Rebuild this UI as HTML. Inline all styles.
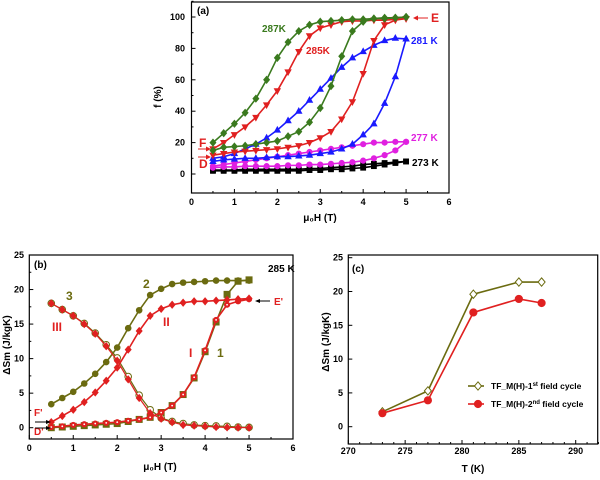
<!DOCTYPE html>
<html><head><meta charset="utf-8"><style>
body{margin:0;background:#fff}
svg{font-family:"Liberation Sans",Arial,sans-serif;font-weight:bold}
</style></head><body>
<svg id="s" width="600" height="475" viewBox="0 0 600 475">
</svg>
<script>
const xsA=[0.5,0.75,1,1.25,1.5,1.75,2,2.25,2.5,2.75,3,3.25,3.5,3.75,4,4.25,4.5,4.75,5];
const a287up=[15,17,17.5,18,19,20,21,24,27,33,42,56,75,91,97,99,99.5,99.5,100];
const a287dn=[20,26,32,39,48,60,74,84,91,95,97,97.5,98,98.5,98.5,99,99,99.5,100];
const a285up=[12,13,14,14.5,15,15.5,16,17,18,20,23,27,35,46,64,85,95,98,99];
const a285dn=[16,20,25,30,36,44,53,65,78,88,93,95,97,97.5,97.5,98,98,98.5,99];
const a281up=[8,9,9.5,10,10,10.5,11,11,11.5,12,13,14,16,19,25,32,45,62,86];
const a281dn=[10,11,13,16,19,23,28,34,40,47,54,61,68,74,78,82,85,86.5,86];
const a277up=[4,4.5,4.5,5,5,5,5,5.5,5.5,6,6,6.5,7,7.5,8.5,10,12,15,20.5];
const a277dn=[5,6,7,8,9,10,11,12,13,14,15,16,17,18,19,20,20,20.5,20.5];
const a273up=[2,2,2,2,2,2,2,2,2,2.5,2.5,3,3,3.5,4,5,6,7,8];
const a273dn=[2.5,2.5,2.5,3,3,3,3,3,3,3.5,3.5,4,4.5,5,6,6.5,7,7.5,8];
const b1=[0,0.1,0.2,0.3,0.4,0.5,0.6,0.9,1.2,1.5,2.2,3.2,4.8,7.2,11,15.3,19.3,21.2,21.4];
const b2=[3.4,4.3,5.2,6.4,7.8,9.5,11.6,14.4,17,19.2,20.1,20.8,21,21.1,21.2,21.3,21.3,21.3,21.3];
const b3=[18,17.1,16.2,15.1,13.7,12,10.1,7.4,4.7,2.6,1.4,0.9,0.6,0.4,0.3,0.25,0.2,0.1,0.05];
const bI=[0.1,0.2,0.4,0.5,0.6,0.7,0.8,1.0,1.2,1.5,2.2,3.2,4.8,7.3,11.2,15.6,17.8,18.3,18.6];
const bII=[0.8,1.7,2.6,3.7,5.1,6.8,8.7,11.3,14,16.2,17.2,17.8,18.1,18.3,18.3,18.4,18.5,18.6,18.7];
const bIII=[18,17.1,16.2,15,13.6,11.8,9.7,7,4.3,2.1,1.3,0.8,0.4,0.3,0.2,0.1,0.05,0.02,0];
const cT=[273,277,281,285,287];
const c1=[2.2,5.3,19.6,21.4,21.4];
const c2=[2.0,3.9,16.9,18.9,18.3];
const ticksA_x=[0,1,2,3,4,5,6], ticksA_y=[0,20,40,60,80,100];
const ticksB_y=[0,5,10,15,20,25], ticksC_x=[270,275,280,285,290];

const S=document.getElementById('s');const NS='http://www.w3.org/2000/svg';
function el(t,at,p){const e=document.createElementNS(NS,t);for(const k in at)e.setAttribute(k,at[k]);(p||S).appendChild(e);return e;}
function txt(x,y,s,at){const e=el('text',Object.assign({x:x,y:y,'font-size':10},at||{}));e.textContent=s;return e;}
function lin(d0,d1,r0,r1){return v=>r0+(v-d0)*(r1-r0)/(d1-d0);}
// panel frames
function frame(name,x0,y0,x1,y1){const r=el('rect',{x:x0,y:y0,width:x1-x0,height:y1-y0,fill:'none',stroke:'#000','stroke-width':1.2});
}
function marker(g,shape,x,y,col,fill,sz){
 let e;
 if(shape==='sq')e=el('rect',{x:x-sz,y:y-sz,width:2*sz,height:2*sz,fill:fill,stroke:col},g);
 else if(shape==='ci')e=el('circle',{cx:x,cy:y,r:sz,fill:fill,stroke:col},g);
 else if(shape==='di')e=el('polygon',{points:`${x},${y-sz*1.3} ${x+sz*1.1},${y} ${x},${y+sz*1.3} ${x-sz*1.1},${y}`,fill:fill,stroke:col},g);
 else if(shape==='tu')e=el('polygon',{points:`${x},${y-sz*1.2} ${x+sz*1.1},${y+sz*0.8} ${x-sz*1.1},${y+sz*0.8}`,fill:fill,stroke:col},g);
 else e=el('polygon',{points:`${x},${y+sz*1.2} ${x+sz*1.1},${y-sz*0.8} ${x-sz*1.1},${y-sz*0.8}`,fill:fill,stroke:col},g);
 
}
function series(name,xs,ys,X,Y,col,shape,fill,sz,lw){
 const g=el('g',{});
 el('polyline',{points:xs.map((v,i)=>X(v)+','+Y(ys[i])).join(' '),fill:'none',stroke:col,'stroke-width':lw||1.6},g);
 xs.forEach((v,i)=>marker(g,shape,X(v),Y(ys[i]),col,fill,sz));
}
// ---- Panel A
const AX=lin(0,6,191.5,449),AY=lin(0,100,174,17);
frame('panel-a-frame',191.5,2,449,193);
ticksA_x.forEach(v=>{el('line',{x1:AX(v),y1:193,x2:AX(v),y2:189,stroke:'#000'});if(v<6)el('line',{x1:AX(v+0.5),y1:193,x2:AX(v+0.5),y2:191,stroke:'#000'});
 const t=txt(AX(v),205,v,{'text-anchor':'middle','font-size':9});});
ticksA_y.forEach(v=>{el('line',{x1:191.5,y1:AY(v),x2:195.5,y2:AY(v),stroke:'#000'});el('line',{x1:191.5,y1:AY(v+10),x2:193.5,y2:AY(v+10),stroke:'#000'});
 const t=txt(185,AY(v)+3,v,{'text-anchor':'end','font-size':9});});
let t;
t=txt(320,221,'μ₀H (T)',{'text-anchor':'middle','font-size':10});
t=txt(0,0,'f (%)',{'text-anchor':'middle',transform:'translate(161,97) rotate(-90)'});
const xr=xsA.slice().reverse();
series('series-273k-up',xsA,a273up,AX,AY,'#000','sq','#000',2.4);
series('series-273k-down',xr,a273dn.slice().reverse(),AX,AY,'#000','sq','#000',2.4);
series('series-277k-up',xsA,a277up,AX,AY,'#e020e0','ci','#e020e0',2.6);
series('series-277k-down',xr,a277dn.slice().reverse(),AX,AY,'#e020e0','ci','#e020e0',2.6);
series('series-281k-up',xsA,a281up,AX,AY,'#1a1aff','tu','#1a1aff',2.6);
series('series-281k-down',xr,a281dn.slice().reverse(),AX,AY,'#1a1aff','tu','#1a1aff',2.6);
series('series-285k-up',xsA,a285up,AX,AY,'#e02020','td','#e02020',2.6);
series('series-285k-down',xr,a285dn.slice().reverse(),AX,AY,'#e02020','td','#e02020',2.6);
series('series-287k-up',xsA,a287up,AX,AY,'#3a7a1e','di','#3a7a1e',2.6);
series('series-287k-down',xr,a287dn.slice().reverse(),AX,AY,'#3a7a1e','di','#3a7a1e',2.6);
[['(a)',197,14,'#000'],['287K',262,32,'#3a7a1e'],['285K',306,54,'#e02020'],['281 K',411,44,'#1a1aff'],['277 K',411,141,'#e020e0'],['273 K',412,166,'#000'],['E',431,22,'#e02020'],['F',199,147,'#e02020'],['D',199,168,'#e02020']].forEach(a=>{
 t=txt(a[1],a[2],a[0],{fill:a[3],'font-size':a[0].length==1?12:10});});
el('line',{x1:428,y1:18,x2:415,y2:18,stroke:'#e02020'});el('polygon',{points:'413,18 418,15.5 418,20.5',fill:'#e02020'});
el('line',{x1:198,y1:149,x2:208,y2:149,stroke:'#e02020'});el('polygon',{points:'211,149 206,146.5 206,151.5',fill:'#e02020'});
el('line',{x1:198,y1:157,x2:208,y2:157,stroke:'#e02020'});el('polygon',{points:'211,157 206,154.5 206,159.5',fill:'#e02020'});
// ---- Panel B
const BX=lin(0,6,29.3,293),BY=lin(0,25,427.7,255);
frame('panel-b-frame',29.3,255,293,439);
ticksA_x.forEach(v=>{el('line',{x1:BX(v),y1:439,x2:BX(v),y2:435,stroke:'#000'});if(v<6)el('line',{x1:BX(v+0.5),y1:439,x2:BX(v+0.5),y2:437,stroke:'#000'});
 t=txt(BX(v),451,v,{'text-anchor':'middle','font-size':9});});
ticksB_y.forEach(v=>{el('line',{x1:29.3,y1:BY(v),x2:33.3,y2:BY(v),stroke:'#000'});if(v<25)el('line',{x1:29.3,y1:BY(v+2.5),x2:31.3,y2:BY(v+2.5),stroke:'#000'});
 t=txt(24,BY(v)+3,v,{'text-anchor':'end','font-size':9});});
t=txt(160,470,'μ₀H (T)',{'text-anchor':'middle','font-size':10});
t=txt(0,0,'ΔSm (J/kgK)',{'text-anchor':'middle','font-size':10,transform:'translate(10,345) rotate(-90)'});
const OL='#6b6b10',RD='#e02020';
series('series-1',xsA,b1,BX,BY,OL,'sq',OL,3);
series('series-2',xsA,b2,BX,BY,OL,'ci',OL,2.8);
series('series-3',xsA,b3,BX,BY,OL,'ci','#fff',3.3,1.2);
series('series-III',xsA,bIII,BX,BY,RD,'di',RD,2.6,1.2);
series('series-I',xsA,bI,BX,BY,RD,'ci',RD,2.6);
xsA.forEach((v,i)=>el('circle',{cx:BX(v),cy:BY(bI[i]),r:0.9,fill:'#fff'}));
series('series-II',xsA,bII,BX,BY,RD,'di',RD,2.6);
[['(b)',34,268,'#000',10],['285 K',268,272,'#000',10],['2',143,288,OL,12],['3',66,300,OL,12],['III',52,331,RD,12],['II',163,326,RD,12],['I',189,357,RD,12],['1',217,357,OL,12],["E'",274,305,RD,10],["F'",34,416,RD,10],["D'",34,435,RD,10]].forEach(a=>{
 t=txt(a[1],a[2],a[0],{fill:a[3],'font-size':a[4]});});
el('line',{x1:270,y1:301,x2:258,y2:301,stroke:'#000'});el('polygon',{points:'255,301 260,299 260,303',fill:'#000'});
el('line',{x1:35,y1:422,x2:48,y2:422,stroke:'#000'});el('polygon',{points:'51,422 46,420 46,424',fill:'#000'});
el('line',{x1:35,y1:428,x2:48,y2:428,stroke:'#000'});el('polygon',{points:'51,428 46,426 46,430',fill:'#000'});
// ---- Panel C
const CX=lin(270,290,348.3,575.7),CY=lin(0,25,426.7,257.7);
frame('panel-c-frame',348.3,255,597.7,444);
ticksC_x.forEach(v=>{el('line',{x1:CX(v),y1:444,x2:CX(v),y2:440,stroke:'#000'});el('line',{x1:CX(v+1),y1:444,x2:CX(v+1),y2:442,stroke:'#000'});el('line',{x1:CX(v+2),y1:444,x2:CX(v+2),y2:442,stroke:'#000'});el('line',{x1:CX(v+3),y1:444,x2:CX(v+3),y2:442,stroke:'#000'});el('line',{x1:CX(v+4),y1:444,x2:CX(v+4),y2:442,stroke:'#000'});
 t=txt(CX(v),454,v,{'text-anchor':'middle','font-size':9});});
ticksB_y.forEach(v=>{el('line',{x1:348.3,y1:CY(v),x2:352.3,y2:CY(v),stroke:'#000'});
 t=txt(343,CY(v)+3,v,{'text-anchor':'end','font-size':9});});
t=txt(473,472,'T (K)',{'text-anchor':'middle','font-size':10});
t=txt(0,0,'ΔSm (J/kgK)',{'text-anchor':'middle','font-size':10,transform:'translate(329,342) rotate(-90)'});
series('series-1st-cycle',cT,c1,CX,CY,OL,'di','#fff',3.2,1.6);
series('series-2nd-cycle',cT,c2,CX,CY,RD,'ci',RD,3.6,1.6);
t=txt(352,272,'(c)',{});
const lg=el('g',{});
el('line',{x1:468,y1:386,x2:484,y2:386,stroke:OL,'stroke-width':1.6},lg);marker(lg,'di',478,386,OL,'#fff',3.2);
el('line',{x1:468,y1:404,x2:484,y2:404,stroke:RD,'stroke-width':1.6},lg);marker(lg,'ci',478,404,RD,RD,3.6);
t=txt(491,389,'',{'font-size':8.5},);t.innerHTML='TF_M(H)-1<tspan font-size="6" dy="-3">st</tspan><tspan dy="3"> field cycle</tspan>';lg.appendChild(t);
t=txt(491,407,'',{'font-size':8.5});t.innerHTML='TF_M(H)-2<tspan font-size="6" dy="-3">nd</tspan><tspan dy="3"> field cycle</tspan>';lg.appendChild(t);
</script>
</body></html>
